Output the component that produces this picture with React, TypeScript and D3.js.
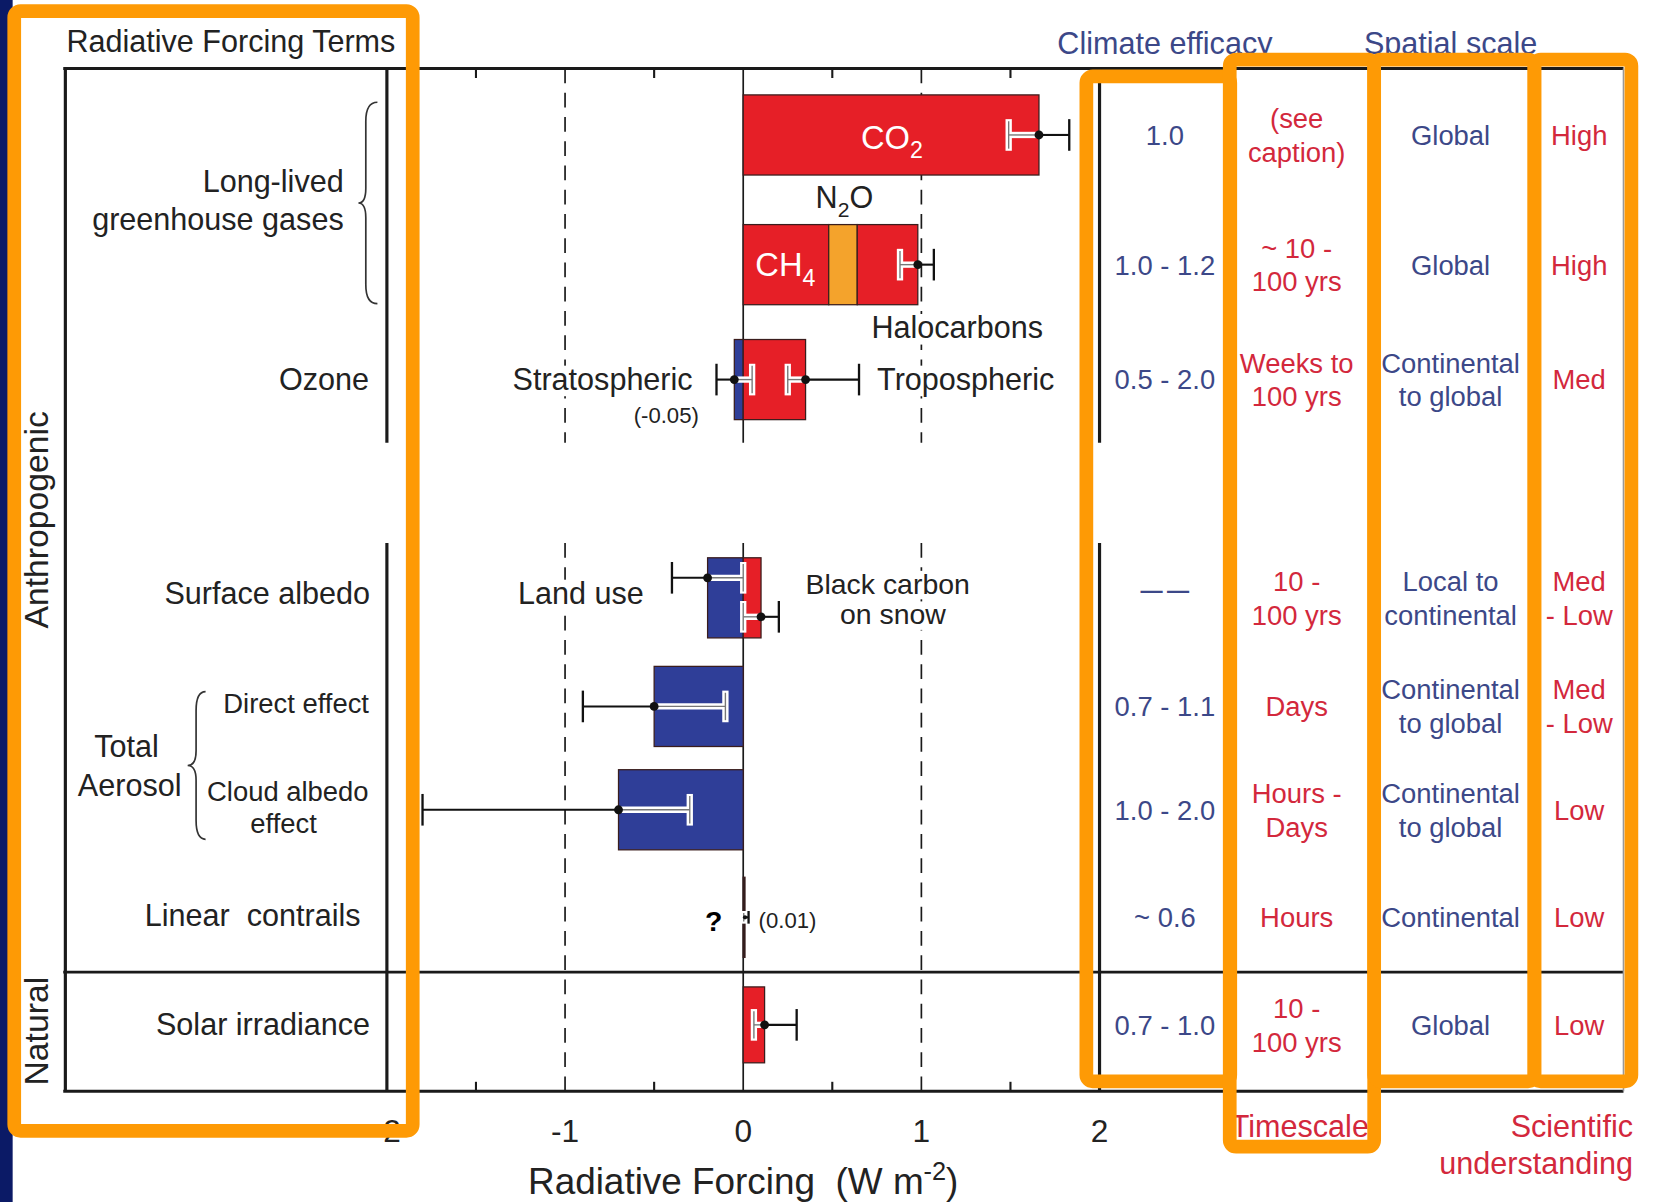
import React from 'react';
import * as d3 from 'd3';

// rows of the figure (top to bottom)
const ROWS = ['co2', 'ghg', 'ozone', 'albedo', 'direct', 'cloud', 'contrails', 'solar'];

// forcing terms drawn as bar segments
const TERMS = ['CO2', 'CH4', 'N2O', 'Halocarbons', 'Stratospheric ozone', 'Tropospheric ozone', 'Land use', 'Black carbon on snow', 'Direct effect', 'Cloud albedo effect', 'Linear contrails', 'Solar irradiance'];
const TERM_ROW = ['co2', 'ghg', 'ghg', 'ghg', 'ozone', 'ozone', 'albedo', 'albedo', 'direct', 'cloud', 'contrails', 'solar'];
const FORCING = [1.66, 0.48, 0.16, 0.34, -0.05, 0.35, -0.2, 0.1, -0.5, -0.7, 0.01, 0.12];

// uncertainty ranges
const ERR_TERM = ['CO2', 'Long-lived greenhouse gases', 'Stratospheric ozone', 'Tropospheric ozone', 'Land use', 'Black carbon on snow', 'Direct effect', 'Cloud albedo effect', 'Linear contrails', 'Solar irradiance'];
const ERR_ROW = ['co2', 'ghg', 'ozone', 'ozone', 'albedo', 'albedo', 'direct', 'cloud', 'contrails', 'solar'];
const ERR_VALUE = [1.66, 0.98, -0.05, 0.35, -0.2, 0.1, -0.5, -0.7, 0.01, 0.12];
const ERR_LOW = [1.49, 0.88, -0.15, 0.25, -0.4, 0.0, -0.9, -1.8, 0.003, 0.06];
const ERR_HIGH = [1.83, 1.07, 0.05, 0.65, 0.0, 0.2, -0.1, -0.3, 0.03, 0.3];

// table columns
const EFFICACY = [['1.0'], ['1.0 - 1.2'], ['0.5 - 2.0'], ['—\u2009—'], ['0.7 - 1.1'], ['1.0 - 2.0'], ['~ 0.6'], ['0.7 - 1.0']];
const TIMESCALE = [['(see', 'caption)'], ['~ 10 -', '100 yrs'], ['Weeks to', '100 yrs'], ['10 -', '100 yrs'], ['Days'], ['Hours -', 'Days'], ['Hours'], ['10 -', '100 yrs']];
const SPATIAL = [['Global'], ['Global'], ['Continental', 'to global'], ['Local to', 'continental'], ['Continental', 'to global'], ['Continental', 'to global'], ['Continental'], ['Global']];
const UNDERSTANDING = [['High'], ['High'], ['Med'], ['Med', '- Low'], ['Med', '- Low'], ['Low'], ['Low'], ['Low']];

const TICK_LABELS = ['-2', '-1', '0', '1', '2'];

// layout (viewBox units, page is drawn at 1653x1202)
const VW = 1568;
const VH = 1140;
const FONT = "'Liberation Sans', Arial, Helvetica, sans-serif";
const RED = '#e61f27';
const BLUE = '#2f3e98';
const ORANGE_N2O = '#f4a32c';
const BOX = '#fe9a05';
const TXT_BLUE = '#3c4888';
const TXT_RED = '#d3283c';
const BAR_H = 76;
const ERR_OFFSET: Record<string, number> = { 'Land use': -19, 'Black carbon on snow': 18 };
const SEGS = [[65, 420], [515, 1035]];

const x = d3.scaleLinear().domain([-2, 2]).range([367, 1043]);
const yRow = d3.scaleOrdinal<string, number>().domain(ROWS).range([128, 251, 360, 567, 670, 768, 870, 972]);
const colX = d3.scaleOrdinal<string, number>()
  .domain(['efficacy', 'timescale', 'spatial', 'understanding'])
  .range([1105, 1230, 1376, 1498]);

let ctx: CanvasRenderingContext2D | null = null;
function measure(text: string, size: number) {
  if (!ctx) ctx = document.createElement('canvas').getContext('2d');
  if (!ctx) return text.length * size * 0.52;
  ctx.font = `${size}px 'Liberation Sans', Arial, sans-serif`;
  return ctx.measureText(text).width;
}

// text sitting on a white patch that hides grid lines behind it
function Patched({ text, tx, ty, size, anchor = 'start' }: { text: string; tx: number; ty: number; size: number; anchor?: 'start' | 'middle' | 'end' }) {
  const w = measure(text, size);
  const x0 = anchor === 'start' ? tx : anchor === 'middle' ? tx - w / 2 : tx - w;
  return (
    <g>
      <rect x={x0 - 4} y={ty - size * 0.8} width={w + 8} height={size * 1.0} fill="#fff" />
      <text x={tx} y={ty} textAnchor={anchor} fontSize={size} fill="#222">{text}</text>
    </g>
  );
}

function termColor(t: string, v: number) {
  if (t === 'N2O') return ORANGE_N2O;
  return v < 0 ? BLUE : RED;
}

// stack the segments inside each row
function stackBars() {
  const pos: Record<string, number> = {};
  const neg: Record<string, number> = {};
  return TERMS.map((t, i) => {
    const row = TERM_ROW[i];
    const v = FORCING[i];
    let x0: number, x1: number;
    if (v >= 0) {
      x0 = pos[row] ?? 0;
      x1 = x0 + v;
      pos[row] = x1;
    } else {
      x1 = neg[row] ?? 0;
      x0 = x1 + v;
      neg[row] = x0;
    }
    return { t, row, v, x0, x1 };
  });
}

function Brace({ xTip, xMid, xPt, y0, y1 }: { xTip: number; xMid: number; xPt: number; y0: number; y1: number }) {
  const ym = (y0 + y1) / 2;
  const d = `M${xTip},${y0} Q${xMid},${y0} ${xMid},${y0 + 18} L${xMid},${ym - 14} Q${xMid},${ym} ${xPt},${ym} Q${xMid},${ym} ${xMid},${ym + 14} L${xMid},${y1 - 18} Q${xMid},${y1} ${xTip},${y1}`;
  return <path d={d} fill="none" stroke="#333" strokeWidth={1.6} />;
}

function Cell({ lines, cx, cy, color, size = 26, bold = false }: { lines: string[]; cx: number; cy: number; color: string; size?: number; bold?: boolean }) {
  const lh = 32;
  const top = cy - ((lines.length - 1) * lh) / 2;
  return (
    <text textAnchor="middle" fontSize={size} fill={color} fontFamily={FONT} fontWeight={bold ? 'bold' : 'normal'}>
      {lines.map((l, i) => (
        <tspan key={i} x={cx} y={top + i * lh + size * 0.36}>{l}</tspan>
      ))}
    </text>
  );
}

export default function App() {
  const bars = stackBars();
  const ticks = x.ticks(8);
  const majors = [-2, -1, 0, 1, 2];

  return (
    <svg
      width={1653}
      height={1202}
      viewBox={`0 0 ${VW} ${VH}`}
      preserveAspectRatio="none"
      style={{ position: 'absolute', left: 0, top: 0 }}
      fontFamily={FONT}
    >
      <rect x={0} y={0} width={VW} height={VH} fill="#fff" />
      <rect x={0} y={0} width={12} height={VH} fill="#0b1a66" />

      {/* frame lines */}
      <g stroke="#1a1a1a">
        <line x1={60} x2={1540} y1={65} y2={65} strokeWidth={3} />
        <line x1={60} x2={1540} y1={922} y2={922} strokeWidth={2.5} />
        <line x1={60} x2={1540} y1={1035} y2={1035} strokeWidth={3} />
        <line x1={62} x2={62} y1={65} y2={1035} strokeWidth={3} />
        <line x1={1540} x2={1540} y1={65} y2={1035} strokeWidth={1.5} stroke="#999" />
        {SEGS.map(([a, b], k) => (
          <g key={k}>
            <line x1={x(-2)} x2={x(-2)} y1={a} y2={b} strokeWidth={3} />
            <line x1={x(2)} x2={x(2)} y1={a} y2={b} strokeWidth={3} />
            <line x1={x(0)} x2={x(0)} y1={a} y2={b} strokeWidth={1.6} />
            {[-1, 1].map(v => (
              <line key={v} x1={x(v)} x2={x(v)} y1={a} y2={b} strokeWidth={1.6} strokeDasharray="14 9" />
            ))}
          </g>
        ))}
        {ticks.filter(v => !majors.includes(v)).map(v => (
          <g key={v}>
            <line x1={x(v)} x2={x(v)} y1={65} y2={74} strokeWidth={2} />
            <line x1={x(v)} x2={x(v)} y1={1026} y2={1035} strokeWidth={2} />
          </g>
        ))}
      </g>

      {/* labels next to bars, on white patches over the grid lines */}
      <Patched text="Halocarbons" tx={908} ty={321} size={29} anchor="middle" />
      <Patched text="Stratospheric" tx={657} ty={370} size={29} anchor="end" />
      <Patched text="Tropospheric" tx={832} ty={370} size={29} />
      <Patched text="Land use" tx={551} ty={573} size={29} anchor="middle" />
      <Patched text="Black carbon" tx={842} ty={563} size={27} anchor="middle" />
      <Patched text="on snow" tx={847} ty={592} size={27} anchor="middle" />
      <Patched text="(-0.05)" tx={632} ty={401} size={21} anchor="middle" />

      {/* bars */}
      {bars.map(b => (
        <rect
          key={b.t}
          x={x(b.x0)}
          y={yRow(b.row) - (b.row === 'solar' ? 36 : BAR_H / 2)}
          width={Math.max(1.6, x(b.x1) - x(b.x0))}
          height={b.row === 'solar' ? 72 : BAR_H}
          fill={b.row === 'contrails' ? '#222' : termColor(b.t, b.v)}
          stroke="#3a1d1d"
          strokeWidth={1.2}
        />
      ))}

      {/* uncertainty */}
      {ERR_TERM.map((t, i) => {
        const v = ERR_VALUE[i];
        const inner = v >= 0 ? ERR_LOW[i] : ERR_HIGH[i];
        const outer = v >= 0 ? ERR_HIGH[i] : ERR_LOW[i];
        const y = yRow(ERR_ROW[i]) + (ERR_OFFSET[t] ?? 0);
        const cap = t === 'Linear contrails' ? 6 : 15;
        return (
          <g key={t}>
            <line x1={x(inner)} x2={x(v)} y1={y} y2={y} stroke="#fff" strokeWidth={6} />
            <line x1={x(inner)} x2={x(inner)} y1={y - cap} y2={y + cap} stroke="#fff" strokeWidth={6} />
            <line x1={x(inner)} x2={x(v)} y1={y} y2={y} stroke="#777" strokeWidth={1.3} />
            <line x1={x(inner)} x2={x(inner)} y1={y - cap + 2} y2={y + cap - 2} stroke="#777" strokeWidth={1.3} />
            <line x1={x(v)} x2={x(outer)} y1={y} y2={y} stroke="#111" strokeWidth={2} />
            <line x1={x(outer)} x2={x(outer)} y1={y - cap} y2={y + cap} stroke="#111" strokeWidth={2.2} />
            <circle cx={x(v)} cy={y} r={t === 'Linear contrails' ? 2 : 4.2} fill="#111" />
          </g>
        );
      })}

      {/* labels on bars */}
      <text x={846} y={141} textAnchor="middle" fontSize={31} fill="#fff">
        CO<tspan dy={9} fontSize={22}>2</tspan>
      </text>
      <text x={745} y={262} textAnchor="middle" fontSize={31} fill="#fff">
        CH<tspan dy={9} fontSize={22}>4</tspan>
      </text>
      <text x={801} y={197} textAnchor="middle" fontSize={29} fill="#222">
        N<tspan dy={9} fontSize={20}>2</tspan><tspan dy={-9}>O</tspan>
      </text>
      <text x={677} y={883} textAnchor="middle" fontSize={27} fontWeight="bold" fill="#000">?</text>
      <text x={747} y={880} textAnchor="middle" fontSize={21} fill="#222">(0.01)</text>

      {/* left labels */}
      <g fontSize={29} fill="#222">
        <text x={63} y={49}>Radiative Forcing Terms</text>
        <text x={326} y={182} textAnchor="end">Long-lived</text>
        <text x={326} y={218} textAnchor="end">greenhouse gases</text>
        <text x={350} y={370} textAnchor="end">Ozone</text>
        <text x={351} y={573} textAnchor="end">Surface albedo</text>
        <text x={120} y={718} textAnchor="middle">Total</text>
        <text x={123} y={755} textAnchor="middle">Aerosol</text>
        <text x={342} y={878} textAnchor="end">{'Linear\u00A0 contrails'}</text>
        <text x={351} y={982} textAnchor="end">Solar irradiance</text>
      </g>
      <g fontSize={26} fill="#222">
        <text x={350} y={676} textAnchor="end">Direct effect</text>
        <text x={273} y={760} textAnchor="middle">Cloud albedo</text>
        <text x={269} y={790} textAnchor="middle">effect</text>
      </g>
      <Brace xTip={358} xMid={347} xPt={340} y0={97} y1={288} />
      <Brace xTip={195} xMid={186} xPt={178} y0={656} y1={796} />
      <text transform="translate(46,493) rotate(-90)" textAnchor="middle" fontSize={32} fill="#222">Anthropogenic</text>
      <text transform="translate(46,978) rotate(-90)" textAnchor="middle" fontSize={32} fill="#222">Natural</text>

      {/* x axis */}
      {majors.map((v, i) => (
        <text key={v} x={x(v)} y={1083} textAnchor="middle" fontSize={30} fill="#222">{TICK_LABELS[i]}</text>
      ))}
      <text x={705} y={1132} textAnchor="middle" fontSize={35} fill="#222">
        {'Radiative Forcing\u00A0 (W m'}<tspan dy={-13} fontSize={24}>-2</tspan><tspan dy={13}>)</tspan>
      </text>

      {/* table */}
      <text x={colX('efficacy')} y={51} textAnchor="middle" fontSize={29} fill={TXT_BLUE}>Climate efficacy</text>
      <text x={colX('spatial')} y={51} textAnchor="middle" fontSize={29} fill={TXT_BLUE}>Spatial scale</text>
      <text x={1233} y={1078} textAnchor="middle" fontSize={29} fill={TXT_RED}>Timescale</text>
      <text x={1549} y={1078} textAnchor="end" fontSize={29} fill={TXT_RED}>Scientific</text>
      <text x={1549} y={1113} textAnchor="end" fontSize={29} fill={TXT_RED}>understanding</text>
      {ROWS.map((r, i) => (
        <g key={r}>
          <Cell lines={EFFICACY[i]} cx={colX('efficacy')} cy={yRow(r) - (r === 'albedo' ? 7 : 0)} color={TXT_BLUE} size={r === 'albedo' ? 21 : 26} bold={r === 'albedo'} />
          <Cell lines={TIMESCALE[i]} cx={colX('timescale')} cy={yRow(r)} color={TXT_RED} />
          <Cell lines={SPATIAL[i]} cx={colX('spatial')} cy={yRow(r)} color={TXT_BLUE} />
          <Cell lines={UNDERSTANDING[i]} cx={colX('understanding')} cy={yRow(r)} color={TXT_RED} />
        </g>
      ))}

      {/* orange highlight boxes */}
      <g fill="none" stroke={BOX} strokeWidth={13}>
        <rect x={13.5} y={10.5} width={378} height={1062} rx={6} />
        <rect x={1030.5} y={72.5} width={136.5} height={953} rx={6} />
        <rect x={1166.5} y={56.5} width={137} height={1031} rx={6} />
        <rect x={1303.5} y={56.5} width={152} height={969} rx={6} />
        <rect x={1455.5} y={56.5} width={92} height={969} rx={6} />
      </g>
    </svg>
  );
}
